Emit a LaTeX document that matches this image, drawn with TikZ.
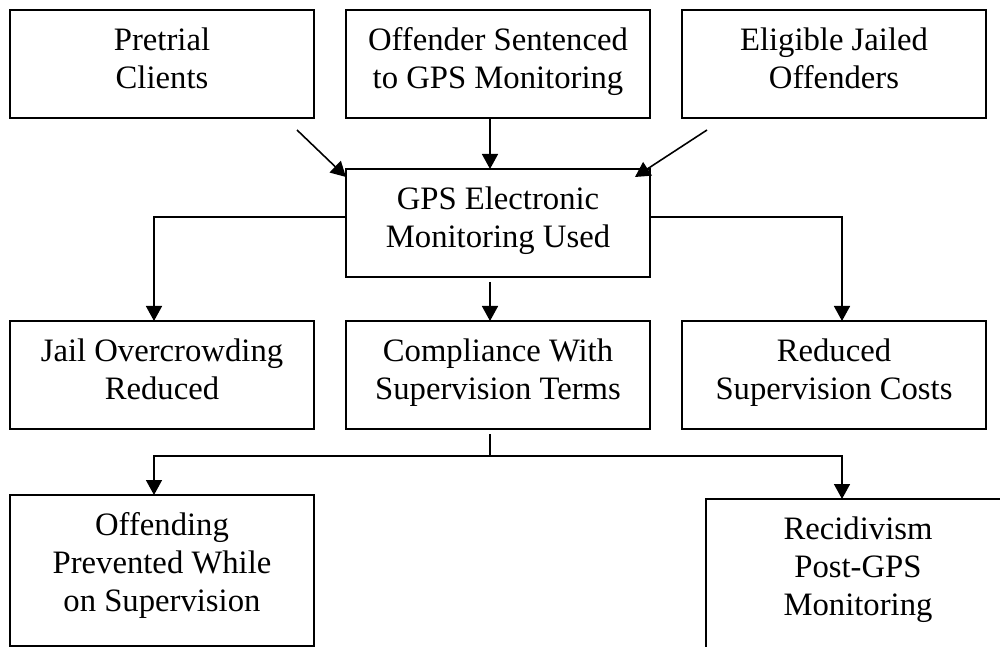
\documentclass[tikz,border=0pt]{standalone}
\usepackage{fontspec}
\setmainfont{Liberation Serif}
\usepackage{tikz}
\usetikzlibrary{arrows.meta,positioning}
\newcommand{\boxfont}{\fontsize{18.6}{21.6}\selectfont}
\tikzset{
  box/.style={draw,line width=0.9pt,minimum width=6.08cm,minimum height=2.16cm,
              align=center,font=\boxfont,inner sep=0pt,outer sep=0pt,text depth=0.24cm},
  tallbox/.style={box,minimum height=3.02cm,text depth=0.33cm},
  arr/.style={-{Triangle[length=0.3cm,width=0.32cm]},line width=0.9pt},
  line/.style={line width=0.9pt},
}
\begin{document}
\begin{tikzpicture}
  \useasboundingbox (0,0) rectangle (20,-12.94);
  % sources
  \node[box] (pre) at (3.24,-1.28) {Pretrial\\Clients};
  \node[box,right=0.64cm of pre] (off) {Offender Sentenced\\to GPS Monitoring};
  \node[box,right=0.64cm of off] (elig) {Eligible Jailed\\Offenders};
  % program
  \node[box,below=1.02cm of off] (gps) {GPS Electronic\\Monitoring Used};
  % outcomes
  \node[box,below=0.88cm of gps] (comp) {Compliance With\\Supervision Terms};
  \node[box,left=0.64cm of comp] (jail) {Jail Overcrowding\\Reduced};
  \node[box,right=0.64cm of comp] (cost) {Reduced\\Supervision Costs};
  % long term
  \node[tallbox,below=1.32cm of jail] (prev) {Offending\\Prevented While\\on Supervision};
  \node[tallbox,below=1.4cm of cost,xshift=0.48cm] (recid) {Recidivism\\Post-GPS\\Monitoring};

  % Arrows
  \draw[arr]([xshift=-0.34cm,yshift=-0.24cm]pre.south east)--([yshift=-0.16cm]gps.north west);
  \draw[arr]([xshift=-0.16cm]off.south)--([xshift=-0.16cm]gps.north);
  \draw[arr]([xshift=0.5cm,yshift=-0.24cm]elig.south west)--([xshift=-0.3cm,yshift=-0.16cm]gps.north east);
  \draw[arr]([yshift=0.12cm]gps.west)-|([xshift=-0.16cm]jail.north);
  \draw[arr]([xshift=-0.16cm,yshift=-0.1cm]gps.south)--([xshift=-0.16cm]comp.north);
  \draw[arr]([yshift=0.12cm]gps.east)-|([xshift=0.16cm]cost.north);
  \draw[line]([xshift=-0.16cm,yshift=-0.1cm]comp.south)--++(0,-0.44)coordinate(split);
  \draw[arr](split)-|([xshift=-0.16cm]prev.north);
  \draw[arr](split)-|([xshift=-0.32cm]recid.north);
\end{tikzpicture}
\end{document}
